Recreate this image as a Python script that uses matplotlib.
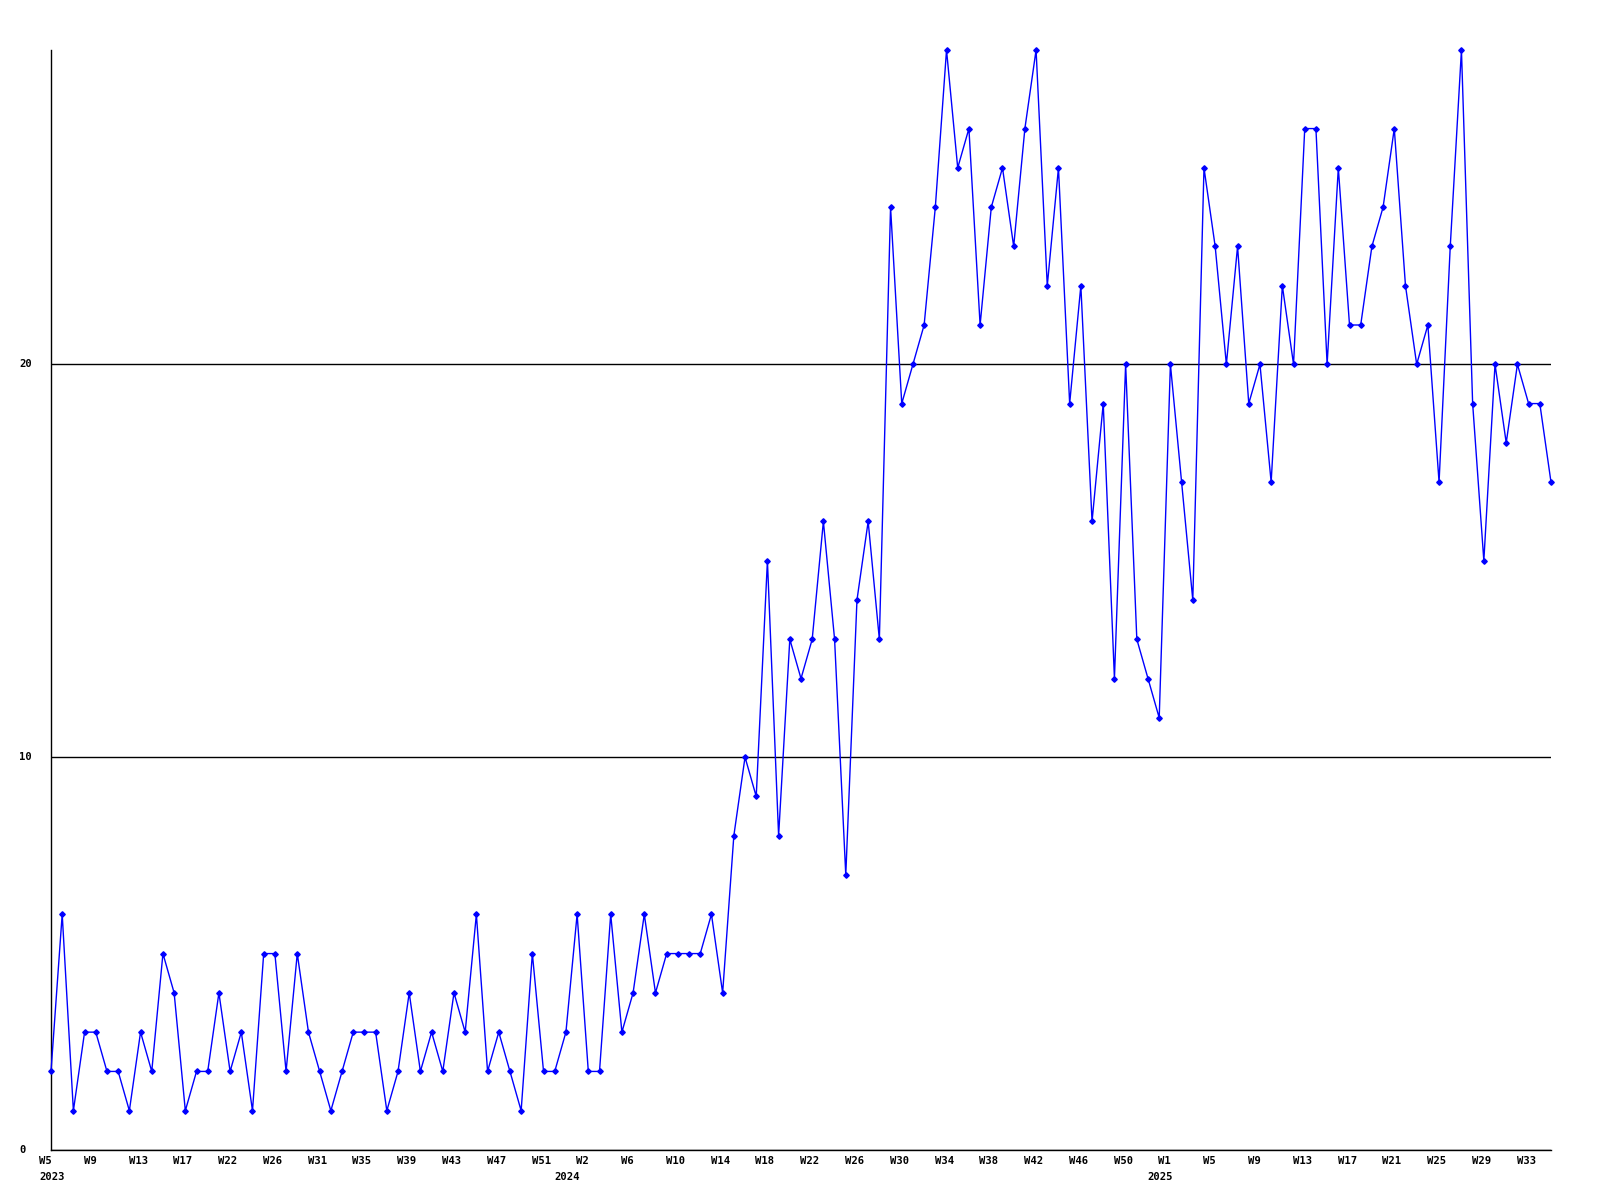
import matplotlib
matplotlib.use("Agg")
import matplotlib.pyplot as plt
import matplotlib.transforms as mtransforms

# weekly counts, one value per plotted point (2023 W5 ... 2025 W35)
values = [2, 6, 1, 3, 3, 2, 2, 1, 3, 2,
          5, 4, 1, 2, 2, 4, 2, 3, 1, 5,
          5, 2, 5, 3, 2, 1, 2, 3, 3, 3,
          1, 2, 4, 2, 3, 2, 4, 3, 6, 2,
          3, 2, 1, 5, 2, 2, 3, 6, 2, 2,
          6, 3, 4, 6, 4, 5, 5, 5, 5, 6,
          4, 8, 10, 9, 15, 8, 13, 12, 13, 16,
          13, 7, 14, 16, 13, 24, 19, 20, 21, 24,
          28, 25, 26, 21, 24, 25, 23, 26, 28, 22,
          25, 19, 22, 16, 19, 12, 20, 13, 12, 11,
          20, 17, 14, 25, 23, 20, 23, 19, 20, 17,
          22, 20, 26, 26, 20, 25, 21, 21, 23, 24,
          26, 22, 20, 21, 17, 23, 28, 19, 15, 20,
          18, 20, 19, 19, 17]

# x tick labels: one every 4 points
tick_index = list(range(0, 133, 4))
tick_labels = ["W5", "W9", "W13", "W17", "W22", "W26", "W31", "W35", "W39",
               "W43", "W47", "W51", "W2", "W6", "W10", "W14", "W18", "W22",
               "W26", "W30", "W34", "W38", "W42", "W46", "W50", "W1", "W5",
               "W9", "W13", "W17", "W21", "W25", "W29", "W33"]
year_index = [0, 46, 99]
year_labels = ["2023", "2024", "2025"]

y_ticks = [0, 10, 20]
y_max = 28

W, H = 1600, 1200
fig = plt.figure(figsize=(16, 12), dpi=100)
ax = fig.add_axes([51 / W, 1 - 1150 / H, 1500 / W, 1100 / H])

x = list(range(len(values)))
ax.plot(x, values, color="#0000ff", lw=1.0, marker="D", ms=2.8,
        mec="#0000ff", mfc="#0000ff", clip_on=False, zorder=3)

ax.set_xlim(0, len(values) - 1)
ax.set_ylim(0, y_max)

for s in ["top", "right"]:
    ax.spines[s].set_visible(False)
for s in ["left", "bottom"]:
    ax.spines[s].set_color("black")
    ax.spines[s].set_linewidth(1.0)

ax.set_xticks([])
ax.set_yticks(y_ticks)
ax.tick_params(axis="y", length=0, labelleft=False)
ax.yaxis.grid(True, color="black", lw=1.0)
ax.set_axisbelow(True)

font = dict(family="DejaVu Sans Mono", fontweight="bold", fontsize=7.6)

trans_x = mtransforms.blended_transform_factory(ax.transData, ax.transAxes)
lab_tr = mtransforms.offset_copy(trans_x, fig=fig, x=-12, y=-11.5, units="dots")
year_tr = mtransforms.offset_copy(trans_x, fig=fig, x=-12, y=-26.5, units="dots")
for i, lab in zip(tick_index, tick_labels):
    ax.text(i, 0, lab, transform=lab_tr, ha="left", va="center", **font)
for i, lab in zip(year_index, year_labels):
    ax.text(i, 0, lab, transform=year_tr, ha="left", va="center", **font)

trans_y = mtransforms.blended_transform_factory(fig.transFigure, ax.transData)
for v in y_ticks:
    ax.text(19.5 / W, v, str(v), transform=trans_y, ha="left", va="center",
            **font)

fig.savefig("out.png", dpi=100, facecolor="white")
